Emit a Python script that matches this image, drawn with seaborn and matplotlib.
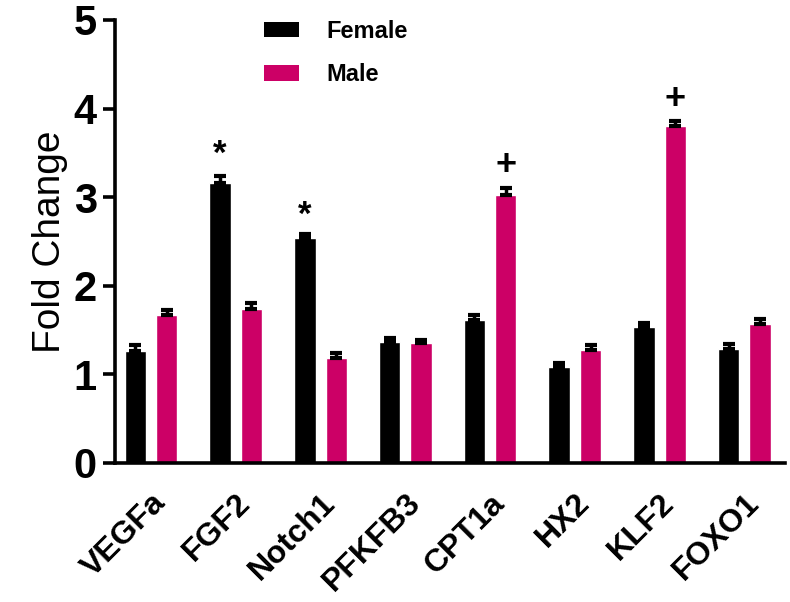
import matplotlib
matplotlib.use("Agg")
import matplotlib.pyplot as plt
import matplotlib.transforms as mtransforms
import seaborn as sns
import pandas as pd
import numpy as np
from matplotlib.patches import Patch

genes = ["VEGFa", "FGF2", "Notch1", "PFKFB3", "CPT1a", "HX2", "KLF2", "FOXO1"]
female = [1.26, 3.16, 2.54, 1.37, 1.61, 1.08, 1.54, 1.29]
male = [1.67, 1.74, 1.19, 1.35, 3.03, 1.28, 3.80, 1.57]
female_err = [0.07, 0.08, 0.05, 0.04, 0.06, 0.05, 0.04, 0.05]
male_err = [0.06, 0.07, 0.05, 0.04, 0.07, 0.05, 0.06, 0.05]
# significance marks
marks_gene = ["FGF2", "Notch1", "CPT1a", "KLF2"]
marks_sex = ["Female", "Female", "Male", "Male"]
marks_sym = ["*", "*", "+", "+"]
marks_y = [3.48, 2.80, 3.36, 4.10]

sns.set_style("white")
plt.rcParams["font.family"] = ["Liberation Sans", "DejaVu Sans"]
plt.rcParams["text.color"] = "black"
plt.rcParams["axes.labelcolor"] = "black"
plt.rcParams["xtick.color"] = "black"
plt.rcParams["ytick.color"] = "black"

df = pd.DataFrame({
    "Gene": genes * 2,
    "Sex": ["Female"] * len(genes) + ["Male"] * len(genes),
    "Fold": female + male,
    "Err": female_err + male_err,
})

palette = {"Female": "#000000", "Male": "#CC0066"}

fig = plt.figure(figsize=(7.9, 6.02), dpi=100)
ax = fig.add_axes([0.1456, 0.2309, 0.8481, 0.7359])

sns.barplot(data=df, x="Gene", y="Fold", hue="Sex", order=genes,
            hue_order=["Female", "Male"], palette=palette, saturation=1,
            width=0.74, gap=0.32, errorbar=None, ax=ax, legend=False)

# error bars (upper only) at bar positions
xs, ys, es = [], [], []
centers = {}
for cont, sex in zip(ax.containers, ["Female", "Male"]):
    sub = df[df.Sex == sex].set_index("Gene").loc[genes]
    for bar, g in zip(cont, genes):
        cx = bar.get_x() + bar.get_width() / 2
        centers[(g, sex)] = cx
        xs.append(cx)
        ys.append(sub.loc[g, "Fold"])
        es.append(sub.loc[g, "Err"])
ax.errorbar(xs, ys, yerr=[np.zeros(len(es)), es], fmt="none", ecolor="black",
            elinewidth=2.5, capsize=4, capthick=3, zorder=3)

for g, s, sym, yv in zip(marks_gene, marks_sex, marks_sym, marks_y):
    ax.text(centers[(g, s)], yv, sym, ha="center", va="center",
            fontsize=25 if sym == "*" else 26, fontweight="bold", color="black")

ax.set_ylim(0, 5)
ax.set_xlim(-0.425, 7.48)
ax.set_yticks([0, 1, 2, 3, 4, 5])
ax.set_yticklabels(["0", "1", "2", "3", "4", "5"], fontsize=30, fontweight="bold")
ax.set_xticks(range(len(genes)))
ax.set_xticklabels(genes, fontsize=23, fontweight="bold", rotation=45,
                   ha="right", va="top", rotation_mode="anchor")
offset = mtransforms.ScaledTranslation(8 / 100, 0, fig.dpi_scale_trans)
for lab in ax.get_xticklabels():
    lab.set_transform(lab.get_transform() + offset)
ax.set_xlabel("")
ax.set_ylabel("Fold Change", fontsize=28, labelpad=4)

sns.despine(ax=ax)
for sp in ["left", "bottom"]:
    ax.spines[sp].set_linewidth(2.6)
    ax.spines[sp].set_color("black")
ax.tick_params(axis="y", which="major", length=9, width=2.6, color="black",
               left=True, direction="out", pad=4)
ax.tick_params(axis="x", length=0, pad=18)

handles = [Patch(facecolor="#000000", edgecolor="none"),
           Patch(facecolor="#CC0066", edgecolor="none")]
leg = ax.legend(handles, ["Female", "Male"], loc="upper left",
                bbox_to_anchor=(0.222, 1.0), frameon=False,
                prop={"size": 17, "weight": "bold"},
                handlelength=1.5, handleheight=0.64, handletextpad=1.15,
                labelspacing=0.85, borderaxespad=0, borderpad=0)

fig.savefig("out.png", dpi=100)
